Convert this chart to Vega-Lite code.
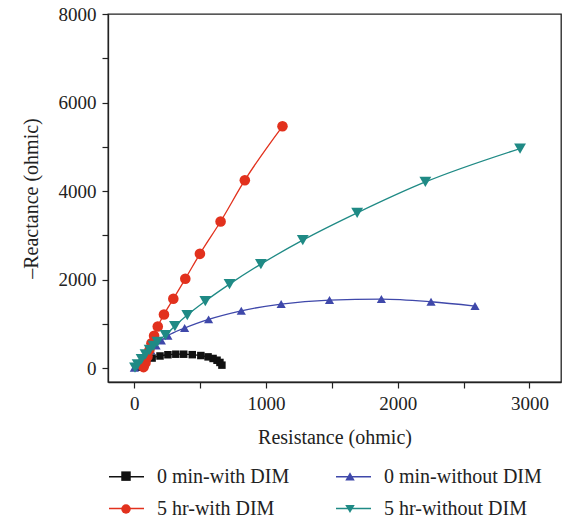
{
  "$schema": "https://vega.github.io/schema/vega-lite/v6.json",
  "width": 453,
  "height": 368,
  "autosize": {"type": "none"},
  "padding": {"left": 108, "top": 14, "right": 4, "bottom": 141},
  "background": "white",
  "config": {
    "font": "Liberation Serif",
    "view": {"stroke": "#222222", "strokeWidth": 1.3},
    "axis": {
      "grid": false,
      "labelFont": "Liberation Serif",
      "labelFontSize": 19,
      "labelColor": "#222222",
      "titleFont": "Liberation Serif",
      "titleFontSize": 20,
      "titleFontWeight": "normal",
      "titleColor": "#222222",
      "tickColor": "#222222",
      "tickSize": 6,
      "tickWidth": 1.2,
      "domainColor": "#222222",
      "domainWidth": 1.3,
      "labelPadding": 5
    }
  },
  "data": {
    "values": [
      {"s": "0 min-with DIM", "R": 15, "X": 20},
      {"s": "0 min-with DIM", "R": 35, "X": 60},
      {"s": "0 min-with DIM", "R": 60, "X": 110},
      {"s": "0 min-with DIM", "R": 90, "X": 165},
      {"s": "0 min-with DIM", "R": 135, "X": 225},
      {"s": "0 min-with DIM", "R": 195, "X": 272},
      {"s": "0 min-with DIM", "R": 255, "X": 300},
      {"s": "0 min-with DIM", "R": 315, "X": 312},
      {"s": "0 min-with DIM", "R": 375, "X": 312},
      {"s": "0 min-with DIM", "R": 440, "X": 302},
      {"s": "0 min-with DIM", "R": 505, "X": 282},
      {"s": "0 min-with DIM", "R": 560, "X": 252},
      {"s": "0 min-with DIM", "R": 598, "X": 216},
      {"s": "0 min-with DIM", "R": 628, "X": 176},
      {"s": "0 min-with DIM", "R": 650, "X": 126},
      {"s": "0 min-with DIM", "R": 665, "X": 65},
      {"s": "0 min-without DIM", "R": 0, "X": 5},
      {"s": "0 min-without DIM", "R": 15, "X": 50},
      {"s": "0 min-without DIM", "R": 35, "X": 110},
      {"s": "0 min-without DIM", "R": 60, "X": 190},
      {"s": "0 min-without DIM", "R": 90, "X": 290},
      {"s": "0 min-without DIM", "R": 125, "X": 400},
      {"s": "0 min-without DIM", "R": 165, "X": 510},
      {"s": "0 min-without DIM", "R": 205, "X": 620},
      {"s": "0 min-without DIM", "R": 255, "X": 729},
      {"s": "0 min-without DIM", "R": 382, "X": 903},
      {"s": "0 min-without DIM", "R": 564, "X": 1099},
      {"s": "0 min-without DIM", "R": 812, "X": 1293},
      {"s": "0 min-without DIM", "R": 1115, "X": 1445},
      {"s": "0 min-without DIM", "R": 1482, "X": 1535},
      {"s": "0 min-without DIM", "R": 1876, "X": 1558},
      {"s": "0 min-without DIM", "R": 2253, "X": 1497},
      {"s": "0 min-without DIM", "R": 2587, "X": 1400},
      {"s": "5 hr-with DIM", "R": 70, "X": 20},
      {"s": "5 hr-with DIM", "R": 85, "X": 120},
      {"s": "5 hr-with DIM", "R": 100, "X": 260},
      {"s": "5 hr-with DIM", "R": 115, "X": 410},
      {"s": "5 hr-with DIM", "R": 130, "X": 560},
      {"s": "5 hr-with DIM", "R": 150, "X": 730},
      {"s": "5 hr-with DIM", "R": 178, "X": 940},
      {"s": "5 hr-with DIM", "R": 225, "X": 1210},
      {"s": "5 hr-with DIM", "R": 296, "X": 1564},
      {"s": "5 hr-with DIM", "R": 387, "X": 2016},
      {"s": "5 hr-with DIM", "R": 498, "X": 2580},
      {"s": "5 hr-with DIM", "R": 655, "X": 3311},
      {"s": "5 hr-with DIM", "R": 839, "X": 4244},
      {"s": "5 hr-with DIM", "R": 1125, "X": 5462},
      {"s": "5 hr-without DIM", "R": 5, "X": 10},
      {"s": "5 hr-without DIM", "R": 25, "X": 80},
      {"s": "5 hr-without DIM", "R": 55, "X": 200},
      {"s": "5 hr-without DIM", "R": 85, "X": 310},
      {"s": "5 hr-without DIM", "R": 116, "X": 410},
      {"s": "5 hr-without DIM", "R": 145, "X": 500},
      {"s": "5 hr-without DIM", "R": 175, "X": 590},
      {"s": "5 hr-without DIM", "R": 237, "X": 745},
      {"s": "5 hr-without DIM", "R": 308, "X": 948},
      {"s": "5 hr-without DIM", "R": 402, "X": 1196},
      {"s": "5 hr-without DIM", "R": 539, "X": 1512},
      {"s": "5 hr-without DIM", "R": 723, "X": 1896},
      {"s": "5 hr-without DIM", "R": 961, "X": 2348},
      {"s": "5 hr-without DIM", "R": 1279, "X": 2889},
      {"s": "5 hr-without DIM", "R": 1692, "X": 3506},
      {"s": "5 hr-without DIM", "R": 2210, "X": 4205},
      {"s": "5 hr-without DIM", "R": 2929, "X": 4959}
    ]
  },
  "encoding": {
    "x": {
      "field": "R",
      "type": "quantitative",
      "title": "Resistance (ohmic)",
      "scale": {"domain": [-200, 3240], "nice": false, "zero": false},
      "axis": {
        "values": [0, 500, 1000, 1500, 2000, 2500, 3000],
        "labelExpr": "datum.value % 1000 === 0 ? datum.label : ''",
        "format": "d",
        "labelPadding": 6,
        "titlePadding": 14
      }
    },
    "y": {
      "field": "X",
      "type": "quantitative",
      "title": "–Reactance (ohmic)",
      "scale": {"domain": [-316, 8000], "nice": false, "zero": false},
      "axis": {
        "values": [0, 1000, 2000, 3000, 4000, 5000, 6000, 7000, 8000],
        "labelExpr": "datum.value % 2000 === 0 ? datum.label : ''",
        "format": "d",
        "labelPadding": 6,
        "titlePadding": 17
      }
    }
  },
  "resolve": {"legend": {"color": "independent", "shape": "independent"}},
  "layer": [
    {
      "mark": {"type": "line", "strokeWidth": 1.3, "interpolate": "monotone"},
      "encoding": {
        "color": {
          "field": "s",
          "type": "nominal",
          "scale": {
            "domain": ["0 min-with DIM", "0 min-without DIM", "5 hr-with DIM", "5 hr-without DIM"],
            "range": ["#111111", "#3F48AA", "#E2311D", "#1F8A85"]
          },
          "legend": {
            "title": null,
            "orient": "none",
            "direction": "horizontal",
            "legendX": 0,
            "legendY": 444,
            "padding": 0,
            "columns": 2,
            "columnPadding": 43,
            "rowPadding": 3,
            "labelFont": "Liberation Serif",
            "labelFontSize": 20,
            "labelColor": "#222222",
            "labelOffset": 12,
            "symbolType": "stroke",
            "symbolSize": 1225,
            "symbolStrokeWidth": 1.3,
            "symbolOpacity": 1
          }
        }
      }
    },
    {
      "mark": {"type": "point", "filled": true, "opacity": 1},
      "encoding": {
        "color": {
          "field": "s",
          "type": "nominal",
          "scale": {
            "domain": ["0 min-with DIM", "0 min-without DIM", "5 hr-with DIM", "5 hr-without DIM"],
            "range": ["#111111", "#3F48AA", "#E2311D", "#1F8A85"]
          },
          "legend": {
            "title": null,
            "orient": "none",
            "direction": "horizontal",
            "legendX": 13,
            "legendY": 457,
            "padding": 0,
            "columns": 2,
            "columnPadding": 214,
            "rowPadding": 23,
            "labelFontSize": 1,
            "labelOffset": 0,
            "labelExpr": "''",
            "symbolSize": 90,
            "symbolStrokeWidth": 0,
            "symbolOpacity": 1
          }
        },
        "shape": {
          "field": "s",
          "type": "nominal",
          "scale": {
            "domain": ["0 min-with DIM", "0 min-without DIM", "5 hr-with DIM", "5 hr-without DIM"],
            "range": ["square", "triangle-up", "circle", "triangle-down"]
          },
          "legend": {
            "title": null,
            "orient": "none",
            "direction": "horizontal",
            "legendX": 13,
            "legendY": 457,
            "padding": 0,
            "columns": 2,
            "columnPadding": 214,
            "rowPadding": 23,
            "labelFontSize": 1,
            "labelOffset": 0,
            "labelExpr": "''",
            "symbolSize": 90,
            "symbolStrokeWidth": 0,
            "symbolOpacity": 1
          }
        },
        "size": {
          "field": "s",
          "type": "nominal",
          "scale": {
            "domain": ["0 min-with DIM", "0 min-without DIM", "5 hr-with DIM", "5 hr-without DIM"],
            "range": [56, 140, 72, 140]
          },
          "legend": null
        }
      }
    }
  ]
}
